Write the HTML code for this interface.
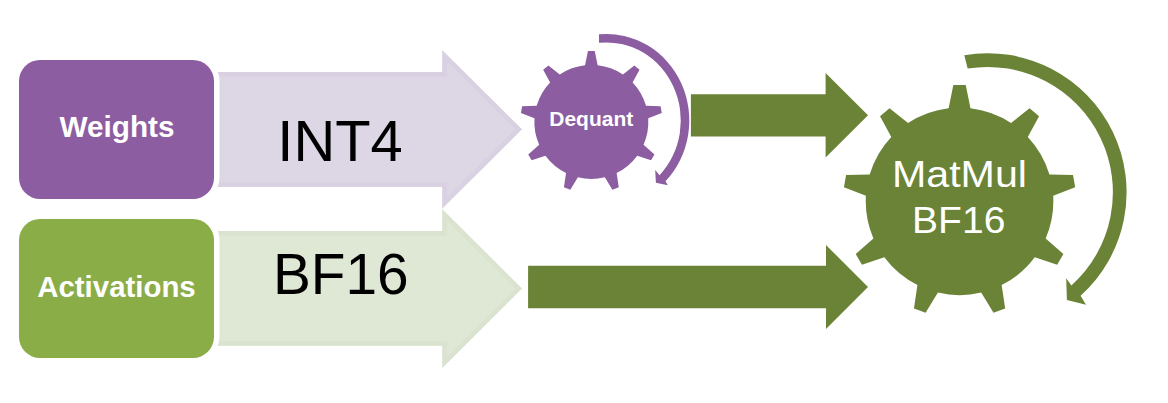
<!DOCTYPE html>
<html><head><meta charset="utf-8"><style>
html,body{margin:0;padding:0;background:#fff;width:1168px;height:403px;overflow:hidden}
svg{display:block}
text{font-family:"Liberation Sans",sans-serif}
</style></head><body>
<svg width="1168" height="403" viewBox="0 0 1168 403">
<defs><clipPath id="cpa"><path d="M200,72L442.3,72L442.3,50.2L522,129.3L442.3,208.4L442.3,187L200,187Z"/></clipPath><clipPath id="cga"><path d="M200,231L442.3,231L442.3,209.3L522,288.6L442.3,368L442.3,345.7L200,345.7Z"/></clipPath></defs>
<path d="M200,72L442.3,72L442.3,50.2L522,129.3L442.3,208.4L442.3,187L200,187Z" fill="#DDD6E5" stroke="#D9D0E2" stroke-width="9" clip-path="url(#cpa)"/>
<path d="M200,231L442.3,231L442.3,209.3L522,288.6L442.3,368L442.3,345.7L200,345.7Z" fill="#DFE7D5" stroke="#DAE3CF" stroke-width="9" clip-path="url(#cga)"/>
<rect x="13.5" y="54.5" width="206" height="149.5" rx="26.5" ry="26.5" fill="#fff"/>
<rect x="19" y="60" width="195" height="139" rx="21" ry="21" fill="#8C5DA1"/>
<rect x="13.5" y="213.5" width="206" height="149.5" rx="26.5" ry="26.5" fill="#fff"/>
<rect x="19" y="219" width="195" height="139" rx="21" ry="21" fill="#8BAD48"/>
<path d="M690.9,94.2L825.6,94.2L825.6,72.9L868,115.3L825.6,157.6L825.6,136.6L690.9,136.6Z" fill="#6A8336"/>
<path d="M528.1,265.8L826,265.8L826,245L868,287L826,329L826,308.2L528.1,308.2Z" fill="#6A8336"/>
<path d="M585.05,65.25L587.95,51.00L594.75,51.00L597.65,65.25A57.00,57.00 0 0 1 622.94,74.45L634.32,65.40L639.53,69.77L632.59,82.55A57.00,57.00 0 0 1 646.05,105.86L660.58,106.24L661.76,112.94L648.23,118.27A57.00,57.00 0 0 1 643.56,144.77L654.45,154.41L651.05,160.29L637.26,155.68A57.00,57.00 0 0 1 616.64,172.98L618.79,187.36L612.40,189.69L604.81,177.29A57.00,57.00 0 0 1 577.89,177.29L570.30,189.69L563.91,187.36L566.06,172.98A57.00,57.00 0 0 1 545.44,155.68L531.65,160.29L528.25,154.41L539.14,144.77A57.00,57.00 0 0 1 534.47,118.27L520.94,112.94L522.12,106.24L536.65,105.86A57.00,57.00 0 0 1 550.11,82.55L543.17,69.77L548.38,65.40L559.76,74.45A57.00,57.00 0 0 1 585.05,65.25Z" fill="#8C5DA1"/>
<path d="M948.64,108.14L953.35,85.00L965.75,85.00L970.46,108.14A93.80,93.80 0 0 1 1011.08,122.92L1029.56,108.22L1039.06,116.19L1027.79,136.94A93.80,93.80 0 0 1 1049.40,174.38L1073.01,175.00L1075.16,187.21L1053.19,195.86A93.80,93.80 0 0 1 1045.69,238.44L1063.37,254.08L1057.17,264.82L1034.78,257.33A93.80,93.80 0 0 1 1001.66,285.11L1005.15,308.47L993.50,312.71L981.16,292.58A93.80,93.80 0 0 1 937.94,292.58L925.60,312.71L913.95,308.47L917.44,285.11A93.80,93.80 0 0 1 884.32,257.33L861.93,264.82L855.73,254.08L873.41,238.44A93.80,93.80 0 0 1 865.91,195.86L843.94,187.21L846.09,175.00L869.70,174.38A93.80,93.80 0 0 1 891.31,136.94L880.04,116.19L889.54,108.22L908.02,122.92A93.80,93.80 0 0 1 948.64,108.14Z" fill="#6A8336"/>
<path d="M599.00,34.26A82.80,86.60 0 0 1 665.46,181.31L667.80,185.30L655.90,182.80L655.20,169.90L659.59,175.14A74.30,78.10 0 0 0 598.99,42.80Z" fill="#8C5DA1"/>
<path d="M964.30,55.15A139.10,139.10 0 0 1 1080.58,295.67L1086.00,304.70L1066.90,299.90L1066.20,278.30L1071.41,285.49A125.40,125.40 0 0 0 967.67,68.48Z" fill="#6A8336"/>
<text transform="translate(59.43,136.80) scale(0.9884,1)" font-size="30.11" font-weight="bold" fill="#fff">Weights</text>
<text transform="translate(37.27,296.70) scale(0.9761,1)" font-size="30.11" font-weight="bold" fill="#fff">Activations</text>
<text transform="translate(277.34,160.90) scale(1.0026,1)" font-size="57.75" font-weight="normal" fill="#000">INT4</text>
<text transform="translate(272.92,294.00) scale(0.9800,1)" font-size="57.89" font-weight="normal" fill="#000">BF16</text>
<text transform="translate(549.28,126.00) scale(1.0772,1)" font-size="19.49" font-weight="bold" fill="#fff">Dequant</text>
<text transform="translate(891.90,187.00) scale(1.0940,1)" font-size="37.67" font-weight="normal" fill="#fff">MatMul</text>
<text transform="translate(912.08,232.90) scale(1.0360,1)" font-size="37.67" font-weight="normal" fill="#fff">BF16</text>
</svg>
</body></html>
